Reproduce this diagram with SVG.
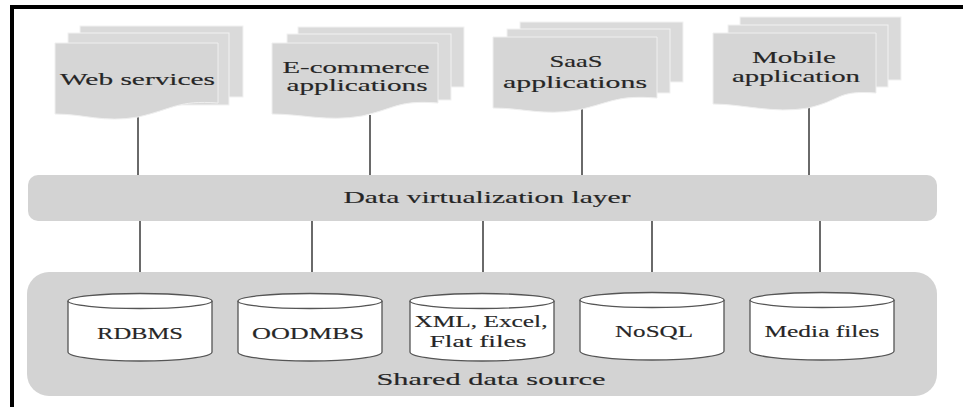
<svg xmlns="http://www.w3.org/2000/svg" width="963" height="407" viewBox="0 0 963 407">
<defs>
<style>
.t{font-family:'Liberation Serif','DejaVu Serif',serif;font-size:16px;fill:#262626;stroke:#262626;stroke-width:0.15;text-anchor:middle}
.pg{fill:#dadada;stroke:#f2f2f2;stroke-width:1}
.fr{fill:#d6d6d6;stroke:#efefef;stroke-width:1}
.bar{fill:#d3d3d3}
.cyl{fill:#ffffff;stroke:#555555;stroke-width:1.3}
.ln{stroke:#6a6a6a;stroke-width:2;fill:none}
</style>
</defs>
<rect width="963" height="407" fill="#ffffff"/>
<g id="frame">
<line x1="10" y1="7" x2="963" y2="7" stroke="#000" stroke-width="4"/>
<line x1="12" y1="5" x2="12" y2="407" stroke="#000" stroke-width="4"/>
</g>
<g id="connectors">
<line class="ln" x1="138" y1="116" x2="138" y2="176"/>
<line class="ln" x1="370" y1="115" x2="370" y2="176"/>
<line class="ln" x1="582" y1="109" x2="582" y2="176"/>
<line class="ln" x1="809" y1="107" x2="809" y2="176"/>
<line class="ln" x1="140" y1="220" x2="140" y2="273"/>
<line class="ln" x1="312" y1="220" x2="312" y2="273"/>
<line class="ln" x1="483" y1="220" x2="483" y2="273"/>
<line class="ln" x1="652" y1="220" x2="652" y2="273"/>
<line class="ln" x1="820" y1="220" x2="820" y2="273"/>
</g>
<g id="web-services">
<rect class="pg" x="80" y="26" width="163" height="71"/>
<rect class="pg" x="68" y="33" width="161" height="72"/>
<path class="fr" d="M55,43 H218 V103 C178,100 173,109 138,117 C103,123 85,114 55,114 Z"/>
<text class="t" x="137.5" y="85" textLength="155" lengthAdjust="spacingAndGlyphs">Web services</text>
</g>
<g id="e-commerce">
<rect class="pg" x="298" y="27" width="166" height="60"/>
<rect class="pg" x="287" y="34" width="164" height="66"/>
<path class="fr" d="M272,43 H438 V103 C398,100 397,108 362,116 C327,122 302,114 272,114 Z"/>
<text class="t" x="356" y="73" textLength="147" lengthAdjust="spacingAndGlyphs">E-commerce</text>
<text class="t" x="357" y="91" textLength="141" lengthAdjust="spacingAndGlyphs">applications</text>
</g>
<g id="saas">
<rect class="pg" x="520" y="22" width="163" height="60"/>
<rect class="pg" x="507" y="29" width="163" height="64"/>
<path class="fr" d="M493,37 H657 V98 C617,95 613,102 578,110 C543,116 523,108 493,108 Z"/>
<text class="t" x="576" y="67" textLength="53" lengthAdjust="spacingAndGlyphs">SaaS</text>
<text class="t" x="575" y="88" textLength="144" lengthAdjust="spacingAndGlyphs">applications</text>
</g>
<g id="mobile">
<rect class="pg" x="740" y="17" width="161" height="63"/>
<rect class="pg" x="728" y="25" width="160" height="62"/>
<path class="fr" d="M713,33 H876 V93 C836,90 843,100 808,108 C773,114 743,104 713,104 Z"/>
<text class="t" x="794" y="63" textLength="84" lengthAdjust="spacingAndGlyphs">Mobile</text>
<text class="t" x="796" y="82" textLength="128" lengthAdjust="spacingAndGlyphs">application</text>
</g>
<g id="virtualization-layer">
<rect class="bar" x="28" y="175" width="909" height="46" rx="10"/>
<text class="t" x="487" y="203" textLength="287" lengthAdjust="spacingAndGlyphs">Data virtualization layer</text>
</g>
<g id="shared-data-source">
<rect class="bar" x="27" y="272" width="910" height="124" rx="22"/>
<text class="t" x="491" y="385" textLength="229" lengthAdjust="spacingAndGlyphs">Shared data source</text>
</g>
<g id="rdbms">
<path class="cyl" d="M68,301 V352 A72,9 0 0 0 212,352 V301"/>
<ellipse class="cyl" cx="140" cy="301" rx="72" ry="7.5"/>
<text class="t" x="140" y="339" textLength="86" lengthAdjust="spacingAndGlyphs">RDBMS</text>
</g>
<g id="oodmbs">
<path class="cyl" d="M238,301 V352 A72,9 0 0 0 382,352 V301"/>
<ellipse class="cyl" cx="310" cy="301" rx="72" ry="7.5"/>
<text class="t" x="308" y="339" textLength="112" lengthAdjust="spacingAndGlyphs">OODMBS</text>
</g>
<g id="xml-excel-flat">
<path class="cyl" d="M410,301 V352 A72,9 0 0 0 554,352 V301"/>
<ellipse class="cyl" cx="482" cy="301" rx="72" ry="7.5"/>
<text class="t" x="481" y="327" textLength="133" lengthAdjust="spacingAndGlyphs">XML, Excel,</text>
<text class="t" x="478" y="347" textLength="97" lengthAdjust="spacingAndGlyphs">Flat files</text>
</g>
<g id="nosql">
<path class="cyl" d="M580,300 V351 A72,9 0 0 0 724,351 V300"/>
<ellipse class="cyl" cx="652" cy="300" rx="72" ry="7.5"/>
<text class="t" x="654" y="337" textLength="78" lengthAdjust="spacingAndGlyphs">NoSQL</text>
</g>
<g id="media-files">
<path class="cyl" d="M750,300 V351 A72,9 0 0 0 894,351 V300"/>
<ellipse class="cyl" cx="822" cy="300" rx="72" ry="7.5"/>
<text class="t" x="822" y="337" textLength="115" lengthAdjust="spacingAndGlyphs">Media files</text>
</g>
</svg>
